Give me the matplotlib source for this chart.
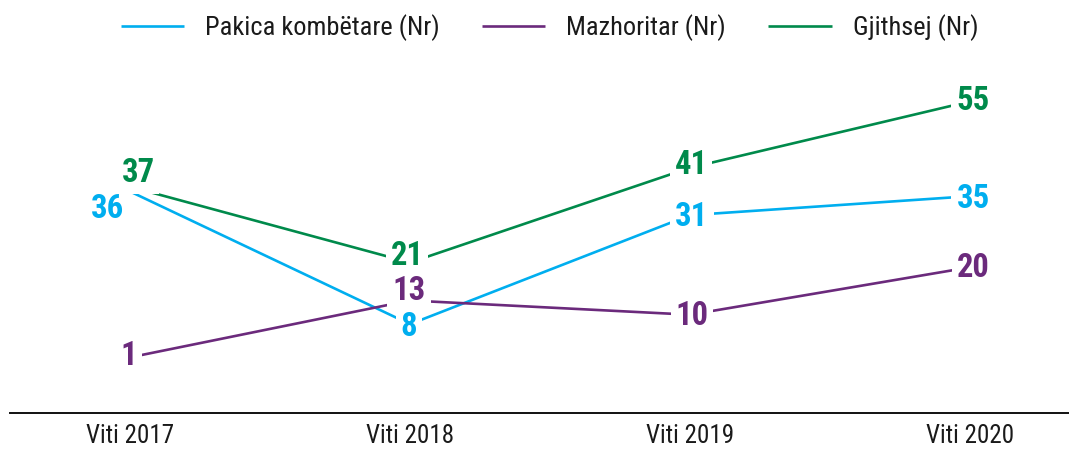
import matplotlib
matplotlib.use("Agg")
import matplotlib.pyplot as plt
from matplotlib import font_manager

# ---- data ----
years = ["Viti 2017", "Viti 2018", "Viti 2019", "Viti 2020"]
pakica = [36, 8, 31, 35]
mazhoritar = [1, 13, 10, 20]
gjithsej = [37, 21, 41, 55]
series_names = ["Pakica kombëtare (Nr)", "Mazhoritar (Nr)", "Gjithsej (Nr)"]

colors = ["#00AEEF", "#6B2A7C", "#008A4B"]

# label offsets in pixels (dx, dy up) per series per year
offsets = [
    [(-22, -18), (-1, -3), (2, -2), (3, -3)],
    [(-1, 1), (-1, 9), (2, -1), (3, -1)],
    [(8, 14), (-3, 7), (1, 3), (3, 0)],
]

names = {f.name for f in font_manager.fontManager.ttflist}
font_kw = {}
for cand in ["Roboto Condensed", "Liberation Sans Narrow", "DejaVu Sans Condensed"]:
    if cand in names:
        font_kw = {"family": cand}
        break
if not font_kw:
    font_kw = {"family": "DejaVu Sans", "stretch": "condensed"}

W, H = 1069, 449
fig = plt.figure(figsize=(W / 100, H / 100), dpi=100)
zero_px = 362.1
scale = 4.74
ax_bottom_px = 413
ax_top_px = 70
ymin = (zero_px - ax_bottom_px) / scale
ymax = (zero_px - ax_top_px) / scale
ax = fig.add_axes([10 / W, (H - ax_bottom_px) / H, 1 - 10 / W, (ax_bottom_px - ax_top_px) / H])

x = list(range(len(years)))
all_series = [pakica, mazhoritar, gjithsej]
handles = []
for vals, c, nm in zip(all_series, colors, series_names):
    h, = ax.plot(x, vals, color=c, lw=1.9, label=nm, zorder=2, solid_capstyle="butt")
    handles.append(h)

for vals, c, offs in zip(all_series, colors, offsets):
    for xi, v, (dx, dy) in zip(x, vals, offs):
        ax.annotate(str(v), (xi, v), xytext=(dx * 0.72, dy * 0.72), textcoords="offset points",
                    ha="center", va="center", fontsize=23.5, fontweight="bold", color=c,
                    bbox=dict(boxstyle="square,pad=0.15", fc="white", ec="none"), zorder=5,
                    **font_kw)

ax.set_xlim(-120 / 280, 3 + 99 / 280)
ax.set_ylim(ymin, ymax)
for s in ["top", "right", "left"]:
    ax.spines[s].set_visible(False)
ax.spines["bottom"].set_linewidth(1.4)
ax.spines["bottom"].set_color("#111111")
ax.set_yticks([])
ax.set_xticks(x)
ax.set_xticklabels(years, fontsize=18, color="#1a1a1a", **font_kw)
ax.tick_params(axis="x", length=0, pad=8)

leg = fig.legend(handles=handles, loc="center", bbox_to_anchor=(0.514, 1 - 28 / H), ncol=3,
                 frameon=False, handlelength=2.4, handletextpad=0.8, columnspacing=1.6,
                 prop=dict(size=19, **font_kw))
for t in leg.get_texts():
    t.set_color("#1a1a1a")

fig.savefig("out.png", dpi=100)
